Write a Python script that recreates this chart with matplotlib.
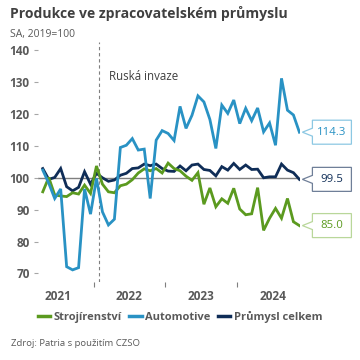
import numpy as np
import matplotlib
matplotlib.use("Agg")
import matplotlib.pyplot as plt
from matplotlib.patches import Polygon
from matplotlib.lines import Line2D
import matplotlib.transforms as mtransforms

plt.rcParams['font.family'] = ['Open Sans', 'DejaVu Sans']

# ---- data (monthly, Apr 2021 .. Nov 2024) ----
start_year, start_month = 2021, 4
years = [2021, 2022, 2023, 2024]
invasion = (2022, 2)

strojirenstvi = [95.6, 100.1, 94.6, 94.3, 94.1, 95.3, 94.9, 97.7, 95.1, 103.7, 98.0, 95.6,
                 95.3, 97.5, 98.0, 99.4, 101.5, 102.8, 102.2, 102.9, 101.5, 104.6, 102.9, 102.2,
                 100.5, 99.2, 101.6, 91.7, 96.8, 90.9, 93.4, 92.0, 96.7, 90.2, 88.4, 88.7,
                 96.9, 83.5, 87.3, 90.4, 87.3, 93.5, 86.2, 85.0]
automotive = [102.4, 98.3, 93.5, 96.5, 72.1, 71.1, 71.8, 96.5, 88.6, 99.8, 89.3, 85.2,
              87.0, 109.5, 110.2, 112.3, 108.7, 109.0, 93.5, 111.8, 114.8, 113.9, 111.7, 122.4,
              115.5, 119.6, 125.7, 123.8, 118.3, 109.2, 122.8, 120.2, 124.4, 117.0, 121.8, 117.9,
              121.9, 114.4, 117.2, 110.2, 131.2, 121.2, 119.7, 114.3]
prumysl = [102.9, 99.5, 100.1, 102.9, 97.2, 95.9, 97.0, 101.9, 98.0, 101.4, 100.0, 98.9,
           99.3, 100.8, 101.4, 102.9, 103.1, 104.3, 103.8, 104.3, 102.9, 102.1, 102.0, 103.7,
           102.2, 104.0, 104.3, 102.6, 102.3, 100.6, 103.5, 102.4, 104.5, 102.6, 104.0, 102.6,
           102.7, 100.0, 100.3, 100.3, 104.3, 102.4, 101.6, 99.5]

series_names = ["Strojírenství", "Automotive", "Průmysl celkem"]
colors = ["#5b9a1f", "#2992c4", "#0f2d57"]
box_edge = ["#b9d79a", "#8cc8e3", "#6f7f98"]
yticks = [70, 80, 90, 100, 110, 120, 130, 140]

def month_index(y, m):
    return (y - start_year) * 12 + (m - start_month)

fig = plt.figure(figsize=(3.6, 3.6), dpi=100)
ax = fig.add_axes([38/360, 1 - 282/360, (300 - 38)/360, (282 - 42)/360])

x = np.arange(len(automotive))
ax.axhline(100, color="#7f7f7f", lw=1.0, zorder=1)
ax.plot(x, prumysl, color=colors[2], lw=2.0, zorder=2, solid_joinstyle='miter')
ax.plot(x, strojirenstvi, color=colors[0], lw=2.0, zorder=3, solid_joinstyle='miter')
ax.plot(x, automotive, color=colors[1], lw=2.0, zorder=4, solid_joinstyle='miter')

inv_x = month_index(*invasion) - 0.5
ax.axvline(inv_x, color="#7f7f7f", lw=0.8, ls=(0, (3, 2.5)), zorder=1)
ax.text(inv_x + 1.6, 131.8, "Ruská invaze", fontsize=8.3, color="#404040",
        ha="left", va="center")

ax.set_xlim(-0.8, len(automotive) - 0.9)
ax.set_ylim(67.3, 142.6)

# ticks
ax.set_yticks(yticks)
ax.set_yticklabels([str(v) for v in yticks])
ax.tick_params(axis='y', length=3, width=0.8, color="#a6a6a6", pad=3,
               labelsize=8.5, labelcolor="#595959")
for lab in ax.get_yticklabels():
    lab.set_fontweight('bold')

boundaries = [month_index(y, 1) - 0.5 for y in years[1:]]
centers = [month_index(y, 1) + 5.5 for y in years]
ax.set_xticks(boundaries)
ax.set_xticklabels([])
ax.set_xticks(centers, minor=True)
ax.set_xticklabels([str(y) for y in years], minor=True)
ax.tick_params(axis='x', which='major', length=3.5, width=0.8, color="#7f7f7f")
ax.tick_params(axis='x', which='minor', length=0, pad=6, labelsize=8.5, labelcolor="#595959")
for lab in ax.get_xticklabels(minor=True):
    lab.set_fontweight('bold')

for s in ax.spines.values():
    s.set_visible(False)

# callout labels at last point
vals = [strojirenstvi, automotive, prumysl]
px = 0.01
verts = np.array([(3, 0), (13, -4), (13, -12), (52, -12), (52, 12), (13, 12), (13, 4)]) * px
for v, c, ec in zip(vals, colors, box_edge):
    last = v[-1]
    tr = fig.dpi_scale_trans + mtransforms.ScaledTranslation(x[-1], last, ax.transData)
    poly = Polygon(verts, closed=True, fc="white", ec=ec, lw=0.9, transform=tr,
                   clip_on=False, zorder=6)
    ax.add_patch(poly)
    ax.text(32.5 * px, 0, f"{last:.1f}", transform=tr, ha="center", va="center",
            fontsize=8.2, color=c, zorder=7, clip_on=False)

# title etc.
fig.text(10/360, 1 - 18/360, "Produkce ve zpracovatelském průmyslu", fontsize=10.1,
         fontweight='bold', color="#404040", ha="left", va="baseline")
fig.text(10/360, 1 - 37/360, "SA, 2019=100", fontsize=7.5, color="#595959",
         ha="left", va="baseline")
fig.text(11/360, 1 - 346/360, "Zdroj: Patria s použitím CZSO", fontsize=6.8,
         color="#595959", ha="left", va="baseline")

handles = [Line2D([], [], color=c, lw=2.5) for c in colors]
leg = fig.legend(handles, series_names, loc="center", bbox_to_anchor=(180/360, 1 - 317/360),
                 ncol=3, frameon=False, handlelength=1.1, handletextpad=0.3,
                 columnspacing=0.7, prop={'weight': 'bold', 'size': 8.0})
for t in leg.get_texts():
    t.set_color("#595959")

fig.savefig("out.png", dpi=100)
